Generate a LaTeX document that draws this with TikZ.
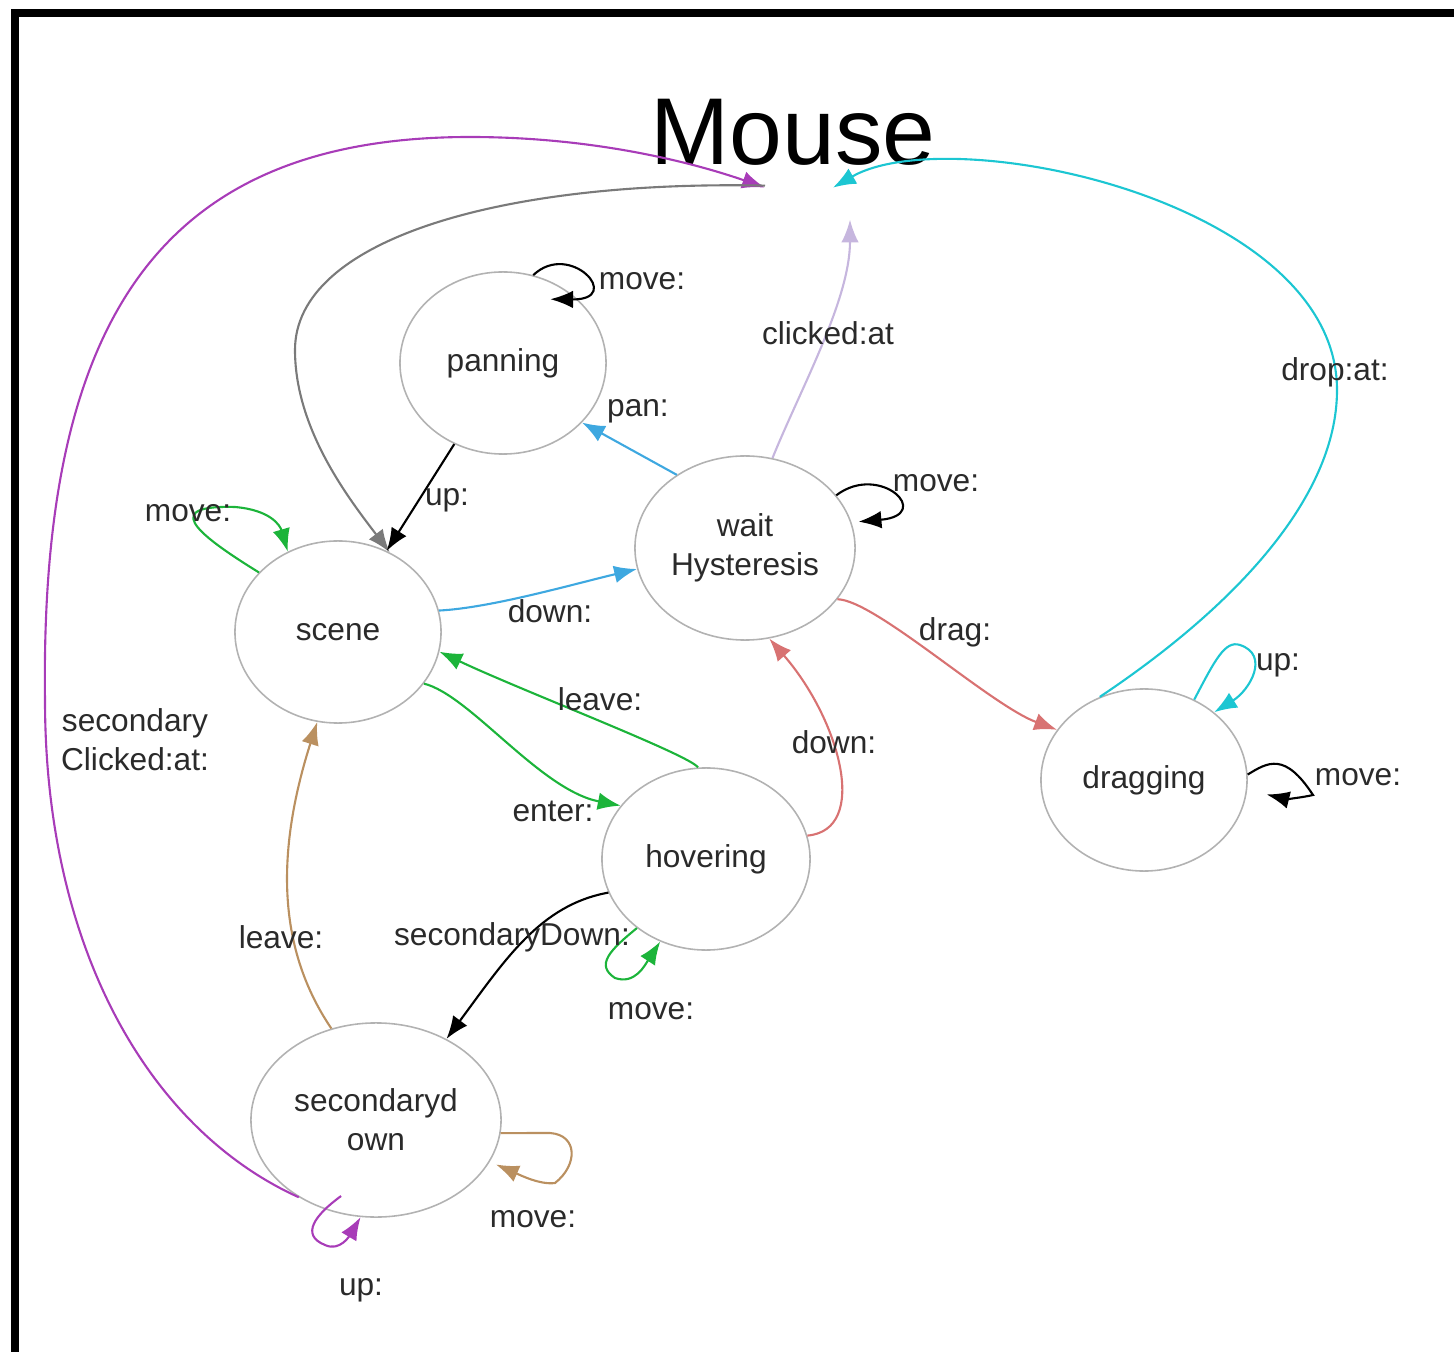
\documentclass[tikz,border=0pt]{standalone}
\usepackage{fontspec}
\setmainfont{Liberation Sans}
\usepackage{xcolor}
\usepackage{tikz}
\usetikzlibrary{calc, arrows.meta, shapes.geometric}

\definecolor{cMag}{HTML}{A83CB8}
\definecolor{cCyan}{HTML}{1CC6D2}
\definecolor{cLav}{HTML}{C6B6DE}
\definecolor{cBlue}{HTML}{3EA8E0}
\definecolor{cGreen}{HTML}{1CB43A}
\definecolor{cRed}{HTML}{D87272}
\definecolor{cBrown}{HTML}{BA9060}
\definecolor{cGrey}{HTML}{7A7A7A}
\definecolor{cText}{HTML}{2A2A2A}

\begin{document}
\begin{tikzpicture}[x=0.01cm, y=-0.01cm,
  state/.style = {ellipse, draw = black!30, line width = .45pt, text = cText,
    font = \fontsize{9}{11}\selectfont, align = center, inner sep = 0pt},
  lbl/.style = {text = cText, font = \fontsize{9}{11}\selectfont, align = center,
    inner sep = 0pt},
  edge/.style = {line width = .6pt, -{Latex[length = 6.5pt, width = 5pt]}}]
  \useasboundingbox (0,0) rectangle (1454,1352);
  \draw[line width = 2.3pt] (15,1360) -- (15,13) -- (1460,13);

  \node[anchor = base, inner sep = 0pt, font = \fontsize{27}{30}\selectfont]
    (mouse) at (793,165) {Mouse};
  \node[state, minimum width = 2.06cm, minimum height = 1.82cm] (panning) at (503,363) {panning};
  \node[state, minimum width = 2.2cm, minimum height = 1.84cm] (wait) at (745,548) {wait\\Hysteresis};
  \node[state, minimum width = 2.06cm, minimum height = 1.82cm] (scene) at (338,632) {scene};
  \node[state, minimum width = 2.06cm, minimum height = 1.82cm] (dragging) at (1144,780) {dragging};
  \node[state, minimum width = 2.08cm, minimum height = 1.82cm] (hovering) at (706,859) {hovering};
  \node[state, minimum width = 2.5cm, minimum height = 1.94cm] (secdown) at (376,1120) {secondaryd\\own};

  \draw[edge, cMag] (secdown.225) .. controls (150,1130) and (45,950) .. (45,700)
    .. controls (40,320) and (160,137) .. (470,137)
    .. controls (600,137) and (700,165) .. ($(mouse.south)+(-28,21)$);
  \draw[edge, cGrey] ($(mouse.south)+(-28,19)$) .. controls (500,180) and (295,240) .. (295,350)
    .. controls (295,430) and (350,500) .. (scene.57);
  \draw[edge, cCyan] (dragging.118) .. controls (1230,610) and (1337,500) .. (1337,390)
    .. controls (1337,200) and (950,120) .. ($(mouse.south)+(40,21)$);
  \draw[edge, cLav] (wait.73) .. controls (800,390) and (850,300) .. ($(mouse.south)+(57,53)$);
  \draw[edge, cBlue] (wait.133) -- (panning.-37);
  \draw[edge, black] (panning.239) -- (scene.59);
  \draw[edge, cBlue] (scene.12) .. controls (490,608) and (570,585) .. (wait.191);
  \draw[edge, cGreen] (hovering.95) .. controls (690,755) and (520,690) .. (scene.-11);
  \draw[edge, cGreen] (scene.-31) .. controls (470,695) and (540,790) .. (hovering.148);
  \draw[edge, cRed] (wait.-29) .. controls (875,600) and (990,705) .. (dragging.150);
  \draw[edge, cRed] (hovering.13) .. controls (870,830) and (840,720) .. (wait.-75);
  \draw[edge, black] (hovering.199) .. controls (540,905) and (505,960) .. (secdown.49);
  \draw[edge, cBrown] (secdown.116) .. controls (285,960) and (270,870) .. (scene.257);

  \draw[edge, black] (panning.71) .. controls (570,240) and (625,300) .. ($(panning.60)+(0,18)$);
  \draw[edge, black] (wait.30) .. controls (880,462) and (935,515) .. ($(wait.15)+(8,2)$);
  \draw[edge, cGreen] (scene.143) .. controls (190,530) and (165,505) .. (235,507)
    .. controls (270,510) and (280,525) .. (scene.122);
  \draw[edge, cCyan] (dragging.58) .. controls (1215,660) and (1225,640) .. (1240,645)
    .. controls (1270,655) and (1250,690) .. (dragging.44);
  \draw[edge, black] (dragging.3) .. controls (1268,762) and (1285,752) .. (1313,795)
    .. controls (1300,798) and (1285,799) .. ($(dragging.-8)+(20,0)$);
  \draw[edge, cGreen] (hovering.225) .. controls (610,950) and (595,965) .. (615,978)
    .. controls (635,985) and (645,965) .. (hovering.241);
  \draw[edge, cBrown] (secdown.-6) -- (550,1133) .. controls (578,1135) and (578,1165) .. (555,1183)
    .. controls (540,1185) and (520,1175) .. ($(secdown.-20)+(6,3)$);
  \draw[edge, cMag] ($(secdown.245)+(8,-16)$) .. controls (315,1215) and (300,1235) .. (325,1245)
    .. controls (340,1252) and (350,1235) .. (secdown.261);

  \node[lbl] (l-sclick) at (135,740) {secondary\\Clicked:at:};
  \node[lbl] (l-drop) at (1335,372) {drop:at:};
  \node[lbl] (l-click) at (828,333) {clicked:at};
  \node[lbl] (l-pan) at (638,411) {pan:};
  \node[lbl] (l-up) at (447,500) {up:};
  \node[lbl] (l-down) at (550,611) {down:};
  \node[lbl] (l-leave) at (600,699) {leave:};
  \node[lbl] (l-enter) at (553,811) {enter:};
  \node[lbl] (l-drag) at (955,632) {drag:};
  \node[lbl] (l-down2) at (834,742) {down:};
  \node[lbl] (l-secdown) at (512,937) {secondaryDown:};
  \node[lbl] (l-leave2) at (281,937) {leave:};
  \node[lbl] (l-pmove) at (642,281) {move:};
  \node[lbl] (l-wmove) at (936,483) {move:};
  \node[lbl] (l-smove) at (188,513) {move:};
  \node[lbl] (l-dup) at (1278,665) {up:};
  \node[lbl] (l-dmove) at (1358,777) {move:};
  \node[lbl] (l-hmove) at (651,1011) {move:};
  \node[lbl] (l-sdmove) at (533,1219) {move:};
  \node[lbl] (l-sdup) at (361,1290) {up:};
\end{tikzpicture}
\end{document}
